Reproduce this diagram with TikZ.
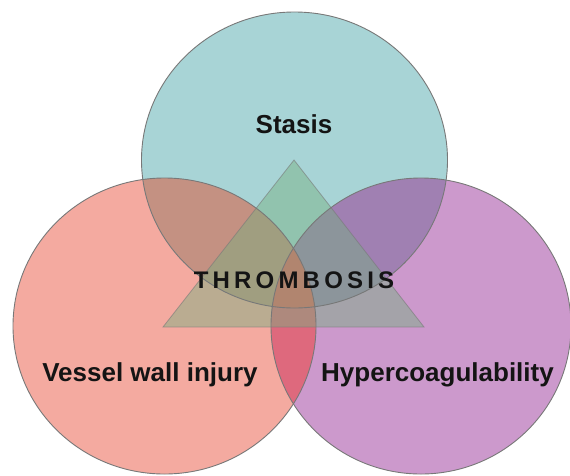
\documentclass[tikz,border=0pt]{standalone}
\usepackage{fontspec}
\setmainfont{Liberation Sans}
\definecolor{tonly}{RGB}{168,212,214}
\definecolor{lonly}{RGB}{244,170,160}
\definecolor{ronly}{RGB}{204,153,204}
\definecolor{ltcol}{RGB}{196,145,130}
\definecolor{trcol}{RGB}{160,128,178}
\definecolor{lrcol}{RGB}{222,105,125}
\definecolor{ltrcol}{RGB}{228,98,98}
\definecolor{tricol}{RGB}{117,176,127}
\definecolor{edgecol}{RGB}{120,120,120}
\definecolor{txtcol}{RGB}{20,20,20}
\begin{document}
\begin{tikzpicture}[x=1pt,y=-1pt,
  ringedge/.style={draw=edgecol,line width=0.9pt},
  lbl/.style={anchor=base,inner sep=0pt,text=txtcol,font=\fontsize{26}{30}\selectfont\bfseries},
  centrelbl/.style={anchor=base,inner sep=0pt,text=txtcol,font=\fontsize{24}{28}\selectfont\bfseries}]
\useasboundingbox (0,0) rectangle (570,475);
\fill[white] (0,0) rectangle (570,475);
% base fills
\fill[lonly] (164.5,326) ellipse [x radius=151.5pt,y radius=148pt];
\fill[ronly] (421,326) ellipse [x radius=150pt,y radius=148pt];
\fill[tonly] (294.5,160) ellipse [x radius=153pt,y radius=148pt];
% pairwise overlaps
\begin{scope}
  \clip (164.5,326) ellipse [x radius=151.5pt,y radius=148pt];
  \fill[ltcol] (294.5,160) ellipse [x radius=153pt,y radius=148pt];
\end{scope}
\begin{scope}
  \clip (294.5,160) ellipse [x radius=153pt,y radius=148pt];
  \fill[trcol] (421,326) ellipse [x radius=150pt,y radius=148pt];
\end{scope}
\begin{scope}
  \clip (164.5,326) ellipse [x radius=151.5pt,y radius=148pt];
  \fill[lrcol] (421,326) ellipse [x radius=150pt,y radius=148pt];
\end{scope}
\begin{scope}
  \clip (164.5,326) ellipse [x radius=151.5pt,y radius=148pt];
  \clip (294.5,160) ellipse [x radius=153pt,y radius=148pt];
  \fill[ltrcol] (421,326) ellipse [x radius=150pt,y radius=148pt];
\end{scope}
% triangle
\coordinate (apex) at (294,160);
\coordinate (bl) at (163,327);
\coordinate (br) at (424,327);
\fill[tricol,fill opacity=0.45] (apex) -- (bl) -- (br) -- cycle;
% outlines
\draw[ringedge] (164.5,326) ellipse [x radius=151.5pt,y radius=148pt];
\draw[ringedge] (421,326) ellipse [x radius=150pt,y radius=148pt];
\draw[ringedge] (294.5,160) ellipse [x radius=153pt,y radius=148pt];
\draw[draw=edgecol,draw opacity=0.6,line width=0.8pt] (apex) -- (bl) -- (br) -- cycle;
% labels
\node[lbl] (stasis) at (294,133) {Stasis};
\node[lbl] (vessel) at (150,381) {Vessel wall injury};
\node[lbl] (hyper) at (437.5,381) {Hypercoagulability};
\node[centrelbl] (thromb) at (294,288) {T\kern4.2pt H\kern4.2pt R\kern4.2pt O\kern4.2pt M\kern4.2pt B\kern4.2pt O\kern4.2pt S\kern4.2pt I\kern4.2pt S};
\end{tikzpicture}
\end{document}
